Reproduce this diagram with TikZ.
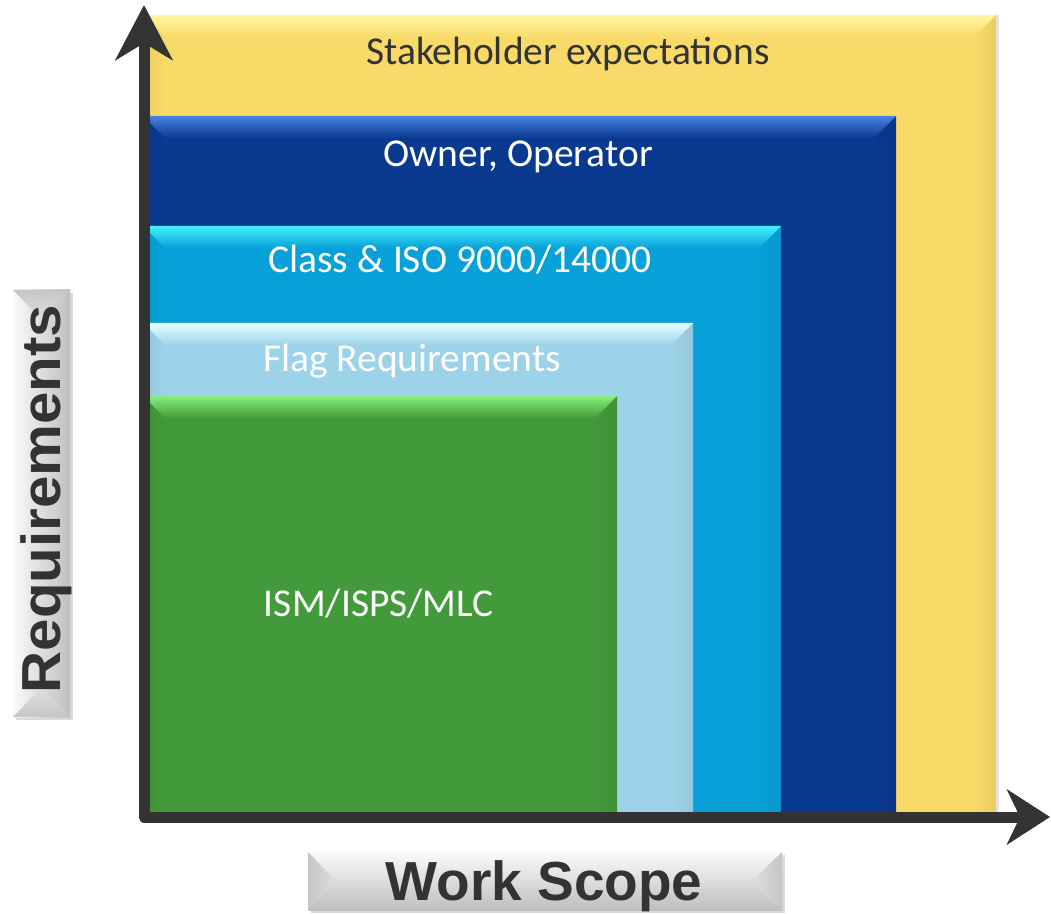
\documentclass[tikz,border=0pt]{standalone}
\usepackage{fontspec}
\setmainfont{Carlito}
\newfontfamily\arialfont{Liberation Sans}
\usetikzlibrary{arrows.meta}
\definecolor{axisgray}{HTML}{333333}
\definecolor{ylbase}{HTML}{F8DA68}
\definecolor{ylhi}{HTML}{FFF6A0}
\definecolor{dbbase}{HTML}{0A3990}
\definecolor{dbhi}{HTML}{4A82E4}
\definecolor{cybase}{HTML}{08A0D8}
\definecolor{cyhi}{HTML}{42F2FF}
\definecolor{lbbase}{HTML}{9DD3E9}
\definecolor{lbhi}{HTML}{E6FFFF}
\definecolor{grbase}{HTML}{439A3A}
\definecolor{grhi}{HTML}{88EE7E}
\definecolor{txtdark}{HTML}{333333}
\newcommand\layerbox[6]{%
  \fill[#5] (#2,96) rectangle (#4,#3);
  \shade[left color=#5, right color=#5!94!black] (#4-22,96) -- (#4-22,#3-22) -- (#4,#3) -- (#4,96) -- cycle;
  \shade[left color=#5!94!black, right color=#5] (#2,96) -- (#2,#3) -- (#2+22,#3-22) -- (#2+22,96) -- cycle;
  \shade[top color=#6, bottom color=#5] (#2,#3) -- (#4,#3) -- (#4-22,#3-22) -- (#2+22,#3-22) -- cycle;
  \coordinate (#1) at (#4,#3);
}
\tikzset{
  layertext/.style={anchor=base, font=\fontsize{39.5}{46}\selectfont, text=white, inner sep=0pt},
  graylabel/.style={anchor=base, font=\arialfont\bfseries\fontsize{55}{60}\selectfont, text=txtdark, inner sep=0pt},
}
\begin{document}
\begin{tikzpicture}[x=1pt,y=1pt]
\useasboundingbox (0,0) rectangle (1051,913);
\fill[white] (0,0) rectangle (1051,913);
% soft shadow of the outer layer
\fill[black!10] (146,90) rectangle (999,898);
% layers
\layerbox{yl}{143}{898}{996}{ylbase}{ylhi}
\layerbox{db}{143}{797}{896}{dbbase}{dbhi}
\layerbox{cy}{143}{687}{781}{cybase}{cyhi}
\layerbox{lb}{143}{590}{693}{lbbase}{lbhi}
\layerbox{gr}{143}{517}{617}{grbase}{grhi}
% layer labels
\node[layertext, text=txtdark] (stake) at (568,848) {Stakeholder expectations};
\node[layertext] (owner) at (518,746) {Owner, Operator};
\node[layertext] (class) at (460,640) {Class \& ISO 9000/14000};
\node[layertext] (flag) at (412,541) {Flag Requirements};
\node[layertext] (ism) at (379,296) {ISM/ISPS/MLC};
% axes
\coordinate (ytip) at (144,908);
\coordinate (xtip) at (1050,96);
\draw[line width=11pt, axisgray, line join=round,
  {Stealth[length=55pt,width=57pt,inset=17pt]}-{Stealth[length=43pt,width=55pt,inset=13pt]}]
  (ytip) |- (xtip);
% Work Scope label box
\fill[black!15] (311,0) rectangle (785,58);
\shade[top color=white!96!gray, bottom color=gray!50] (308,3) rectangle (782,61);
\shade[left color=gray!45, right color=gray!25] (308,61) -- (336,32) -- (308,3) -- cycle;
\shade[left color=gray!25, right color=gray!45] (782,61) -- (752,32) -- (782,3) -- cycle;
\node[graylabel] (work) at (544,13) {Work Scope};
% Requirements label box
\fill[black!15] (16,193) rectangle (73,620);
\shade[left color=white!96!gray, right color=gray!50] (13,196) rectangle (70,623);
\shade[top color=gray!45, bottom color=gray!25] (13,623) -- (70,623) -- (41,594) -- cycle;
\shade[top color=gray!25, bottom color=gray!45] (13,196) -- (70,196) -- (41,225) -- cycle;
\node[graylabel, rotate=90] (req) at (60,414) {\scalebox{1.06}[1]{Requirements}};
\end{tikzpicture}
\end{document}
